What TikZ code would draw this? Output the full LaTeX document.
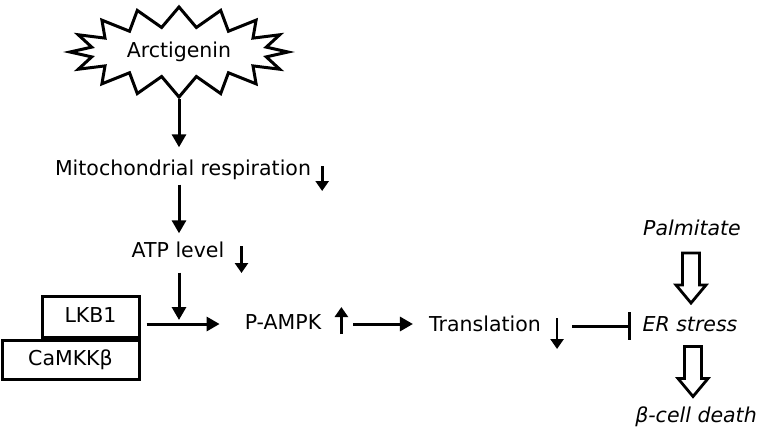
\documentclass[tikz,border=0pt]{standalone}
\usepackage{fontspec}
\setmainfont{DejaVu Sans}
\usetikzlibrary{shapes.symbols,arrows.meta,calc}

\tikzset{
  lbl/.style={font=\fontsize{20.5}{23}\selectfont, text height=15pt, text depth=4pt, inner sep=3pt},
  itlbl/.style={lbl, font=\fontsize{20.5}{23}\selectfont\itshape},
  arr/.style={line width=3pt, -{Triangle[length=13pt,width=14pt]}},
  ind/.style={line width=2.8pt, -{Triangle[length=10pt,width=13pt]}},
  kinase/.style={lbl, draw, line width=3pt, inner sep=0pt},
  pics/hollowdown/.style={code={
    \draw[line width=2.8pt, line join=miter, fill=white]
      (-8.5,-25) -- (8.5,-25) -- (8.5,7) -- (15,7) -- (0,25) -- (-15,7) -- (-8.5,7) -- cycle;}}
}

\begin{document}
\begin{tikzpicture}[x=1pt, y=-1pt]
  \useasboundingbox (0,0) rectangle (757,431);

  % drug and energy chain
  \node[lbl, starburst, draw, line width=3pt, starburst points=16, starburst point height=20pt,
        random starburst=0, minimum width=218pt, minimum height=90pt] (arct) at (179,52) {Arctigenin};
  \node[lbl] (mito) at (183,170) {Mitochondrial respiration};
  \node[lbl] (atp) at (178,252) {ATP level};

  % kinases
  \node[kinase, minimum width=97pt, minimum height=41pt] (lkb) at (90.5,316.5) {LKB1};
  \node[kinase, minimum width=137pt, minimum height=39pt] (camkk) at (70.5,359.5) {CaMKKβ};

  \node[lbl] (pampk) at (283,324) {P-AMPK};
  \node[lbl] (trans) at (485,326) {Translation};
  \node[itlbl] (er) at (690,326) {ER stress};
  \node[itlbl] (palm) at (692,230) {Palmitate};
  \node[itlbl] (death) at (696,417) {β-cell death};

  % connectors
  \draw[arr, shorten >=10pt] (arct.south) -- (arct.south |- mito.north);
  \draw[arr, shorten <=2pt, shorten >=6pt] (arct.south |- mito.south) -- (arct.south |- atp.north);
  \draw[arr, shorten <=8pt, shorten >=4pt] (arct.south |- atp.south) -- (arct.south |- pampk.west);
  \draw[arr, shorten <=6pt, shorten >=22pt] (lkb.east |- pampk.west) -- (pampk.west);
  \draw[arr, shorten <=29pt, shorten >=13pt] (pampk.east) -- (trans.west |- pampk.east);
  \draw[line width=3pt, -{Bar[width=28pt]}, shorten <=28pt, shorten >=8pt] (trans.east) -- (er.west);

  % up / down marks
  \draw[ind] ([xshift=8pt,yshift=4pt]mito.east) -- ++(0,25);
  \draw[ind] ([xshift=14pt,yshift=6pt]atp.east) -- ++(0,27);
  \draw[ind] ([xshift=17pt,yshift=-10pt]pampk.east) -- ++(0,-27);
  \draw[ind] ([xshift=13pt,yshift=8pt]trans.east) -- ++(0,31);

  % hollow arrows
  \path ($(palm)!0.5!(er)$) pic {hollowdown};
  \path ($(er)!0.5!(death)$) pic {hollowdown};
\end{tikzpicture}
\end{document}
